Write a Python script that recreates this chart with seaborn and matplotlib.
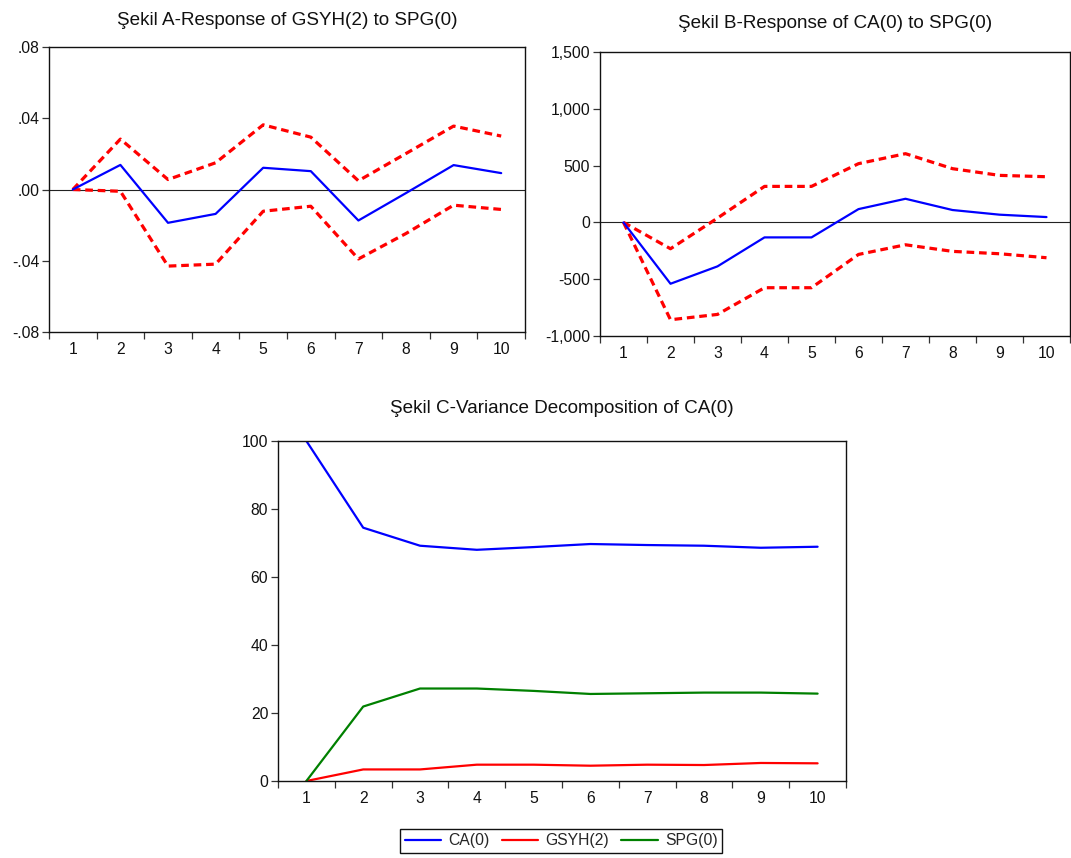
import numpy as np
import pandas as pd
import matplotlib
matplotlib.use("Agg")
import matplotlib.pyplot as plt
import seaborn as sns

# ---------------- data ----------------
periods = list(range(1, 11))

# Panel A: Response of GSYH(2) to SPG(0)
a_resp  = [0.0, 0.0138, -0.0187, -0.0137, 0.0122, 0.0103, -0.0174, -0.0020, 0.0137, 0.0092]
a_upper = [0.0, 0.0283, 0.0056, 0.0150, 0.0363, 0.0294, 0.0049, 0.0202, 0.0356, 0.0300]
a_lower = [0.0, -0.0010, -0.0430, -0.0419, -0.0122, -0.0094, -0.0390, -0.0247, -0.0088, -0.0112]
a_yticks = [-0.08, -0.04, 0.0, 0.04, 0.08]
a_ylabels = ["-.08", "-.04", ".00", ".04", ".08"]

# Panel B: Response of CA(0) to SPG(0)
b_resp  = [0, -540, -387, -132, -132, 117, 208, 109, 68, 47]
b_upper = [0, -232, 38, 317, 317, 517, 605, 473, 414, 402]
b_lower = [0, -857, -810, -575, -575, -282, -197, -255, -276, -311]
b_yticks = [-1000, -500, 0, 500, 1000, 1500]
b_ylabels = ["-1,000", "-500", "0", "500", "1,000", "1,500"]

# Panel C: Variance decomposition of CA(0)
c_ca   = [100.0, 74.5, 69.2, 68.0, 68.8, 69.7, 69.4, 69.2, 68.6, 68.9]
c_gsyh = [0.0, 3.4, 3.4, 4.8, 4.8, 4.5, 4.8, 4.7, 5.3, 5.2]
c_spg  = [0.0, 21.9, 27.2, 27.2, 26.5, 25.6, 25.8, 26.0, 26.0, 25.7]
c_yticks = [0, 20, 40, 60, 80, 100]

titles = ["Şekil A-Response of GSYH(2) to SPG(0)",
          "Şekil B-Response of CA(0) to SPG(0)",
          "Şekil C-Variance Decomposition of CA(0)"]
legend_labels = ["CA(0)", "GSYH(2)", "SPG(0)"]

# ---------------- style ----------------
sns.set_style("ticks")
plt.rcParams["font.family"] = ["Liberation Sans", "DejaVu Sans"]
plt.rcParams["font.size"] = 11

TICK_FS = 11.3
TITLE_FS = 13.6

fig = plt.figure(figsize=(10.71, 8.58), dpi=100)
W, H = 1071, 858

def ax_at(x0, x1, y0, y1):
    return fig.add_axes([x0 / W, 1 - y1 / H, (x1 - x0) / W, (y1 - y0) / H])

axA = ax_at(49, 525, 47, 332)
axB = ax_at(600, 1070, 52, 336)
axC = ax_at(278, 846, 441, 781)

BLUE = "#0000ff"
RED = "#ff0000"
GREEN = "#008000"

def style_axis(ax, yticks, ylabels, ylim):
    ax.set_xlim(0.5, 10.5)
    ax.set_ylim(*ylim)
    ax.set_xticks(np.arange(0.5, 11, 1.0))
    ax.set_xticklabels([])
    ax.set_xticks(periods, minor=True)
    ax.set_xticklabels([str(p) for p in periods], minor=True)
    ax.tick_params(axis="x", which="major", direction="out", length=5, width=0.9, color="#333333")
    ax.tick_params(axis="x", which="minor", length=0, pad=7, labelsize=TICK_FS, labelcolor="#111111")
    ax.set_yticks(yticks)
    ax.set_yticklabels(ylabels)
    ax.tick_params(axis="y", direction="out", length=5, width=0.9, color="#333333",
                   labelsize=TICK_FS, labelcolor="#111111", pad=2)
    for s in ax.spines.values():
        s.set_visible(True)
        s.set_color("#111111")
        s.set_linewidth(1.0)
    ax.set_xlabel("")
    ax.set_ylabel("")

def irf_panel(ax, resp, upper, lower, title, yticks, ylabels, ylim, pad):
    df = pd.DataFrame({"period": periods, "resp": resp, "upper": upper, "lower": lower})
    ax.axhline(0, color="#222222", lw=0.8, zorder=1)
    sns.lineplot(data=df, x="period", y="upper", ax=ax, color=RED, lw=2.3,
                 zorder=2).lines[-1].set_dashes((2.4, 1.5))
    sns.lineplot(data=df, x="period", y="lower", ax=ax, color=RED, lw=2.3,
                 zorder=2).lines[-1].set_dashes((2.4, 1.5))
    sns.lineplot(data=df, x="period", y="resp", ax=ax, color=BLUE, lw=1.6, zorder=3)
    style_axis(ax, yticks, ylabels, ylim)
    ax.set_title(title, fontsize=TITLE_FS, pad=pad, color="#111111")

irf_panel(axA, a_resp, a_upper, a_lower, titles[0], a_yticks, a_ylabels, (-0.08, 0.08), 16)
irf_panel(axB, b_resp, b_upper, b_lower, titles[1], b_yticks, b_ylabels, (-1000, 1500), 17)

dfc = pd.DataFrame({"period": periods * 3,
                    "value": c_ca + c_gsyh + c_spg,
                    "series": [legend_labels[0]] * 10 + [legend_labels[1]] * 10 + [legend_labels[2]] * 10})
sns.lineplot(data=dfc, x="period", y="value", hue="series", ax=axC,
             palette=[BLUE, RED, GREEN], lw=1.6, legend=False)
style_axis(axC, c_yticks, [str(v) for v in c_yticks], (0, 100))
axC.set_title(titles[2], fontsize=TITLE_FS, pad=20, color="#111111")

handles = [plt.Line2D([], [], color=c, lw=1.6) for c in (BLUE, RED, GREEN)]
leg = fig.legend(handles, legend_labels, loc="center", ncol=3,
                 bbox_to_anchor=(561 / W, 1 - 841 / H), frameon=True, fancybox=False,
                 edgecolor="#111111", framealpha=1, fontsize=TICK_FS, handlelength=2.35,
                 columnspacing=0.75, handletextpad=0.45, borderpad=0.3, borderaxespad=0)
leg.get_frame().set_linewidth(1.0)

fig.savefig("out.png", dpi=100)
